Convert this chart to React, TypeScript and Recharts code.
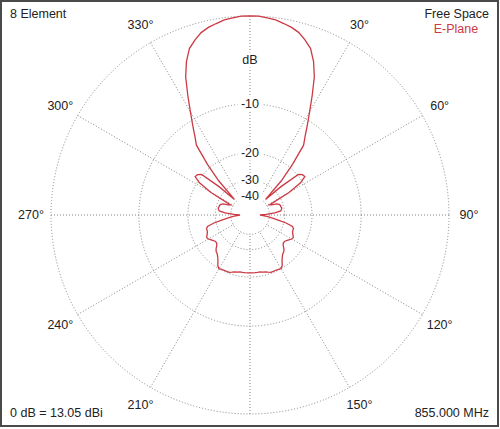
import type { ReactNode } from "react";
import {
  PolarAngleAxis,
  PolarGrid,
  PolarRadiusAxis,
  Radar,
  RadarChart,
} from "recharts";

// compass bearing of each sample, clockwise from the front (0°)
const angles = [
  0, 2.5, 5, 7.5, 10, 12.5, 15, 17.5, 20, 22.5, 25, 27.5, 30, 32.5, 35, 37.5,
  40, 42.5, 45, 47.5, 50, 52.5, 55, 57.5, 60, 62.5, 65, 67.5, 70, 72.5, 75,
  77.5, 80, 82.5, 85, 87.5, 90, 92.5, 95, 97.5, 100, 102.5, 105, 107.5, 110,
  112.5, 115, 117.5, 120, 122.5, 125, 127.5, 130, 132.5, 135, 137.5, 140,
  142.5, 145, 147.5, 150, 152.5, 155, 157.5, 160, 162.5, 165, 167.5, 170,
  172.5, 175, 177.5, 180, 182.5, 185, 187.5, 190, 192.5, 195, 197.5, 200,
  202.5, 205, 207.5, 210, 212.5, 215, 217.5, 220, 222.5, 225, 227.5, 230,
  232.5, 235, 237.5, 240, 242.5, 245, 247.5, 250, 252.5, 255, 257.5, 260,
  262.5, 265, 267.5, 270, 272.5, 275, 277.5, 280, 282.5, 285, 287.5, 290,
  292.5, 295, 297.5, 300, 302.5, 305, 307.5, 310, 312.5, 315, 317.5, 320,
  322.5, 325, 327.5, 330, 332.5, 335, 337.5, 340, 342.5, 345, 347.5, 350,
  352.5, 355, 357.5,
];

// E-plane gain relative to the 13.05 dBi peak
const gainDb = [
  0, 0, -0.1, -0.2, -0.4, -0.6, -0.9, -1.4, -2.0, -3.1, -4.6, -6.7, -8.8,
  -10.7, -12.5, -14.0, -18.9, -25.1, -37.8, -26.7, -19.7, -18.9, -18.7, -20.6,
  -25.5, -37.8, -36.3, -33.1, -31.9, -31.4, -31.4, -31.1, -31.4, -31.9, -35.6,
  -43.3, -51.3, -46.8, -42.2, -37.8, -33.7, -28.9, -25.9, -25.3, -25.3, -25.1,
  -24.6, -24.1, -24.4, -25.1, -25.7, -26.1, -26.1, -25.5, -24.4, -23.7, -23.4,
  -22.7, -21.8, -20.6, -20.0, -20.2, -20.3, -20.3, -20.3, -20.6, -20.9, -21.0,
  -21.2, -21.2, -21.2, -21.2, -21.2,
  -21.2, -21.2, -21.2, -21.2, -21.0, -20.9, -20.6, -20.3, -20.3, -20.3, -20.2,
  -20.0, -20.6, -21.8, -22.7, -23.4, -23.7, -24.4, -25.5, -26.1, -26.1, -25.7,
  -25.1, -24.4, -24.1, -24.6, -25.1, -25.3, -25.3, -25.9, -28.9, -33.7, -37.8,
  -42.2, -46.8, -51.3, -43.3, -35.6, -31.9, -31.4, -31.1, -31.4, -31.4, -31.9,
  -33.1, -36.3, -37.8, -25.5, -20.6, -18.7, -18.9, -19.7, -26.7, -37.8, -25.1,
  -18.9, -14.0, -12.5, -10.7, -8.8, -6.7, -4.6, -3.1, -2.0, -1.4, -0.9, -0.6,
  -0.4, -0.2, -0.1, 0,
];

const ringDb = [0, -10, -20, -30, -40];
const ringLabels = ["-10", "-20", "-30", "-40"];
const spokeBearings = [0, 30, 60, 90, 120, 150, 180, 210, 240, 270, 300, 330];
const labelledBearings = [30, 60, 90, 120, 150, 210, 240, 270, 300, 330];

const CX = 250;
const CY = 215;
const R = 199;
const RED = "#cc3a44";
const GRID = "#858585";
const FONT = '"Liberation Sans", Arial, sans-serif';

// ARRL log-periodic scale: each 2 dB shrinks the radius by a factor 0.89
const arrl = (db: number) => Math.pow(0.89, -db / 2);

const rows = angles.map((angle, i) => ({ angle, rho: arrl(gainDb[i]) }));
const ringRadii = ringDb.map((db) => R * arrl(db));

const layer = { position: "absolute", left: 0, top: 0 } as const;

function AngleTick(props: any): ReactNode {
  const { x, y, payload } = props;
  const v = Number(payload?.value);
  if (!labelledBearings.includes(v)) return null;
  return (
    <text
      x={x}
      y={y}
      textAnchor="middle"
      dominantBaseline="central"
      fontSize={12.5}
      fontFamily={FONT}
      fill="#222"
    >
      {v}°
    </text>
  );
}

function ScaleLabel({ y, text }: { y: number; text: string }) {
  const w = text.length * 7 + 4;
  return (
    <g>
      <rect x={CX - w / 2} y={y - 7.5} width={w} height={15} fill="#fff" />
      <text
        x={CX}
        y={y}
        textAnchor="middle"
        dominantBaseline="central"
        fontSize={12.5}
        fontFamily={FONT}
        fill="#222"
      >
        {text}
      </text>
    </g>
  );
}

const chartProps = {
  width: 500,
  height: 429,
  cx: CX,
  cy: CY,
  outerRadius: R,
  startAngle: 90,
  endAngle: -270,
  data: rows,
  margin: { top: 0, right: 0, bottom: 0, left: 0 },
};

export default function App() {
  return (
    <div style={{ ...layer, width: 500, height: 429, background: "#fff" }}>
      {/* spokes, cleared inside the -40 dB ring */}
      <div style={layer}>
        <RadarChart {...chartProps}>
          <PolarGrid
            gridType="circle"
            polarRadius={[]}
            polarAngles={spokeBearings.map((b) => 90 - b)}
            stroke={GRID}
            strokeDasharray="1 2"
          />
        </RadarChart>
      </div>
      <svg width={500} height={429} style={layer}>
        <circle cx={CX} cy={CY} r={ringRadii[4] - 0.5} fill="#fff" />
      </svg>
      <div style={layer}>
        <RadarChart {...chartProps}>
          <PolarGrid
            gridType="circle"
            radialLines={false}
            polarRadius={ringRadii}
            stroke={GRID}
            strokeDasharray="1 2"
          />
          <PolarRadiusAxis domain={[0, 1]} type="number" tick={false} axisLine={false} />
          <PolarAngleAxis
            dataKey="angle"
            tick={AngleTick}
            tickLine={false}
            axisLine={false}
            tickSize={20}
          />
          <Radar
            dataKey="rho"
            stroke={RED}
            strokeWidth={1.3}
            fill="none"
            fillOpacity={0}
            dot={false}
            isAnimationActive={false}
          />
        </RadarChart>
      </div>
      <svg width={500} height={429} style={{ ...layer, pointerEvents: "none" }}>
        <rect x={1} y={1} width={497} height={425} fill="none" stroke="#4a4a4a" strokeWidth={2} />
        <ScaleLabel y={60} text="dB" />
        {ringLabels.map((t, i) => (
          <ScaleLabel key={t} y={CY - ringRadii[i + 1]} text={t} />
        ))}
        <g fontFamily={FONT} fontSize={12.5} fill="#222" dominantBaseline="central">
          <text x={10} y={14}>8 Element</text>
          <text x={489} y={14} textAnchor="end">Free Space</text>
          <text x={456} y={29} textAnchor="middle" fill={RED}>E-Plane</text>
          <text x={10} y={413}>0 dB = 13.05 dBi</text>
          <text x={489} y={413} textAnchor="end">855.000 MHz</text>
        </g>
      </svg>
    </div>
  );
}
